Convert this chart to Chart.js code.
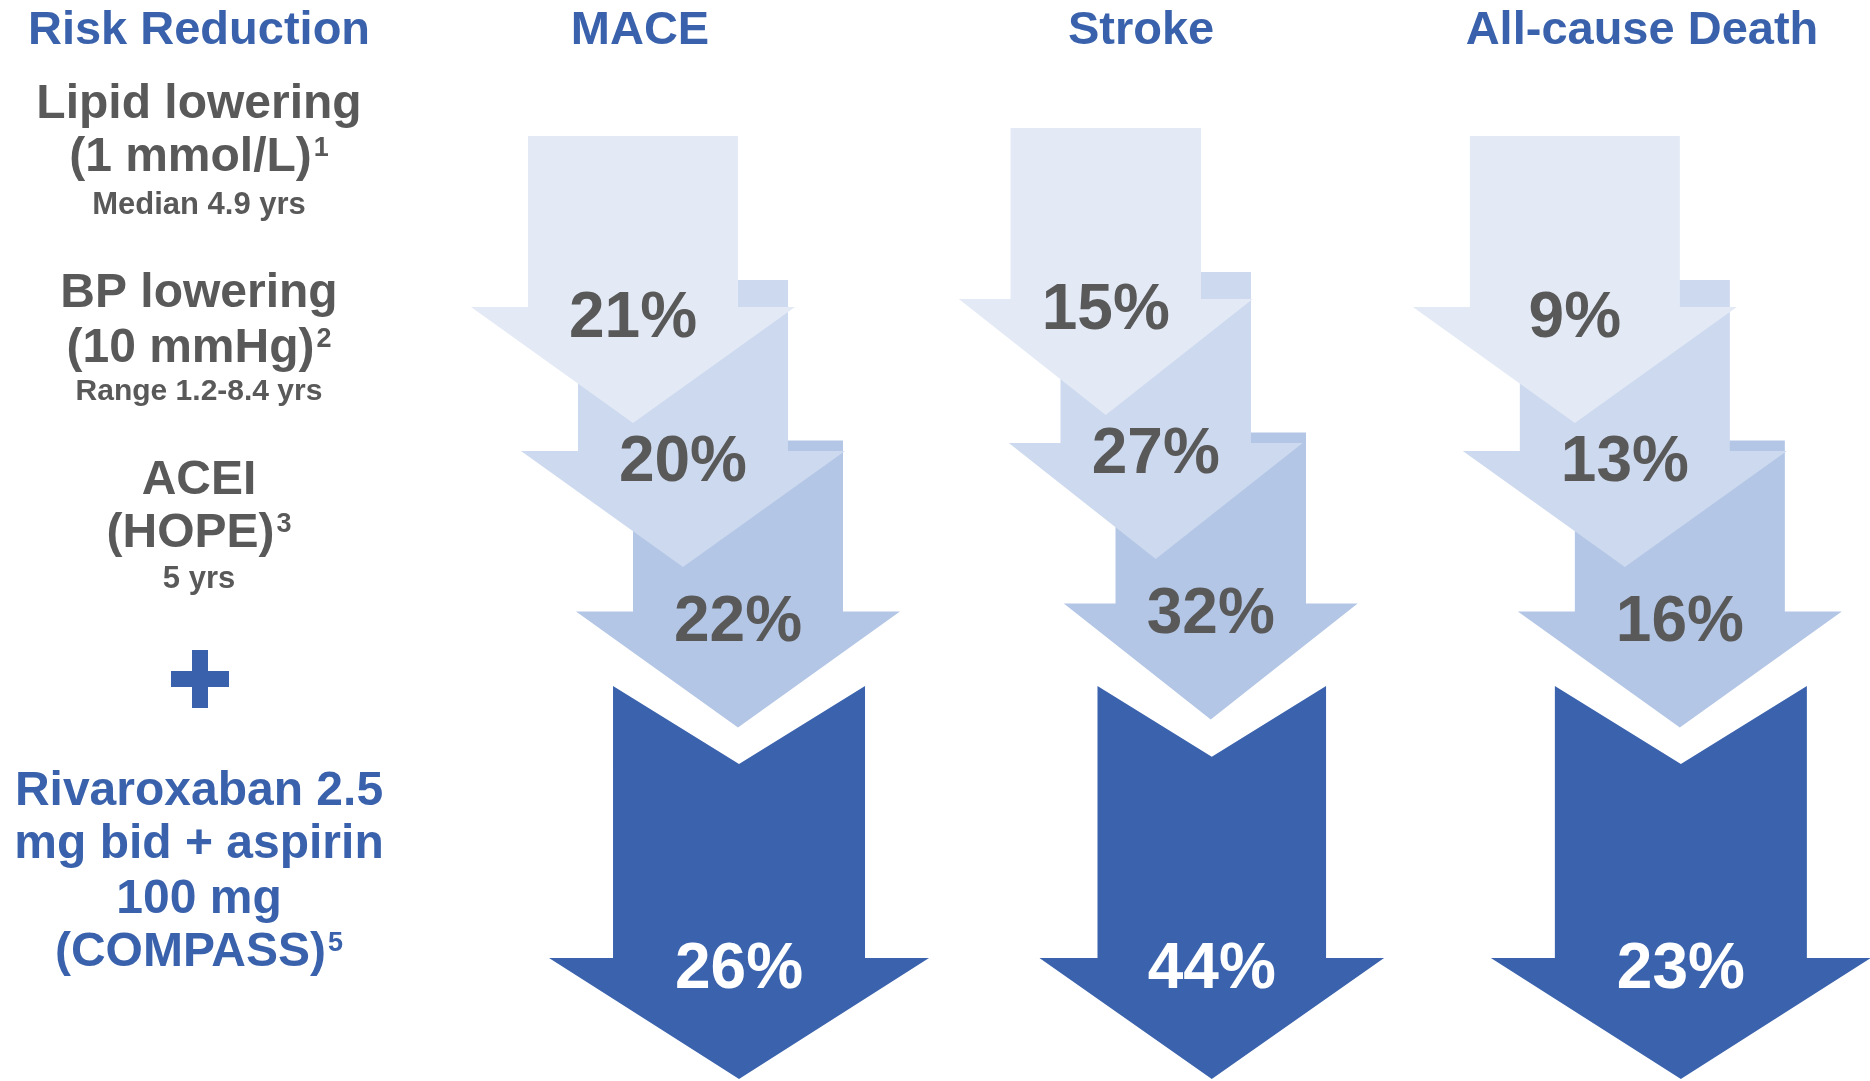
<!DOCTYPE html>
<html><head><meta charset="utf-8">
<script src="https://cdn.jsdelivr.net/npm/chart.js@4.4.1/dist/chart.umd.min.js"></script>
<style>html,body{margin:0;padding:0;background:#fff;overflow:hidden}#wrap{width:1870px;height:1081px;position:relative}</style>
</head><body><div id="wrap"><canvas id="c"></canvas></div>
<script>
// ---------- DATA ----------
const categories = ['MACE', 'Stroke', 'All-cause Death'];
const therapies = ['Lipid lowering', 'BP lowering', 'ACEI', 'Rivaroxaban + aspirin'];
const lipidLowering = [21, 15, 9];
const bpLowering = [20, 27, 13];
const aceiHope = [22, 32, 16];
const rivaroxabanAspirin = [26, 44, 23];
const headerTitle = 'Risk Reduction';
const leftTexts = [
  ['Lipid lowering', ''], ['(1 mmol/L)', '1'], ['Median 4.9 yrs', ''],
  ['BP lowering', ''], ['(10 mmHg)', '2'], ['Range 1.2-8.4 yrs', ''],
  ['ACEI', ''], ['(HOPE)', '3'], ['5 yrs', ''],
  ['Rivaroxaban 2.5', ''], ['mg bid + aspirin', ''], ['100 mg', ''], ['(COMPASS)', '5']
];

// ---------- LAYOUT / STYLE ----------
const FONT = '"Liberation Sans", Arial, Helvetica, sans-serif';
const GRAY = '#595959', BLUE = '#3A62AC';
const FILLS = ['#E3EAF6', '#CDD9EE', '#B3C6E6', '#3B63AD'];
const L = {
  colUnit: 469.75, colStart: 633, rowUnit: 144, rowStart: 307,
  stepShift: [0, 0.1064, 0.2235, 0.2257],
  rowPos: [0, 1, 2.115, 4.521],
  colWidth: [1, 0.907, 1],
  colNudge: [0, 0.0064, 0.005],
  colRowNudge: [0, -0.056, 0],
  headerX: [0.0149, 1.0815, 2.1479],
  leftX: 199,
  leftY: [105, 158, 205, 294, 349, 392, 481, 534, 579, 792, 845, 900, 953],
  leftSize: [48, 48, 31, 48, 48, 30, 48, 48, 31, 48, 48, 48, 48],
  leftBlue: [0,0,0,0,0,0,0,0,0,1,1,1,1],
  plusY: 679, headerY: 31, labelDy: 12
};

const seriesValues = [lipidLowering, bpLowering, aceiHope, rivaroxabanAspirin];
const datasets = seriesValues.map((vals, s) => ({
  label: therapies[s],
  data: categories.map((c, i) => ({
    x: i + L.colNudge[i] + L.stepShift[s],
    y: L.rowPos[s] + (s < 3 ? L.colRowNudge[i] : 0),
    v: vals[i]
  })),
  pointRadius: 0, showLine: false
}));

function lightArrow(ctx, cx, ht, ws, color) {
  const sw = 105 * ws, hw = 162 * ws, sl = 171, hh = 116;
  ctx.beginPath();
  ctx.moveTo(cx - sw, ht - sl); ctx.lineTo(cx + sw, ht - sl); ctx.lineTo(cx + sw, ht);
  ctx.lineTo(cx + hw, ht); ctx.lineTo(cx, ht + hh); ctx.lineTo(cx - hw, ht);
  ctx.lineTo(cx - sw, ht); ctx.closePath();
  ctx.fillStyle = color; ctx.fill();
}
function darkArrow(ctx, cx, ht, ws, color) {
  const sw = 126 * ws, hw = 190 * ws, top = ht - 272, notch = 78 * ws, hh = 121;
  ctx.beginPath();
  ctx.moveTo(cx - sw, top); ctx.lineTo(cx, top + notch); ctx.lineTo(cx + sw, top);
  ctx.lineTo(cx + sw, ht); ctx.lineTo(cx + hw, ht); ctx.lineTo(cx, ht + hh);
  ctx.lineTo(cx - hw, ht); ctx.lineTo(cx - sw, ht); ctx.closePath();
  ctx.fillStyle = color; ctx.fill();
}

function drawSupLine(ctx, x, y, text, sup, size, color) {
  ctx.fillStyle = color;
  ctx.textBaseline = 'middle';
  ctx.font = 'bold ' + size + 'px ' + FONT;
  const w1 = ctx.measureText(text).width;
  let w2 = 0, supSize = Math.round(size * 0.56);
  if (sup) { ctx.font = 'bold ' + supSize + 'px ' + FONT; w2 = ctx.measureText(sup).width + 2; }
  const x0 = x - (w1 + w2) / 2;
  ctx.textAlign = 'left';
  ctx.font = 'bold ' + size + 'px ' + FONT;
  ctx.fillText(text, x0, y);
  if (sup) {
    ctx.font = 'bold ' + supSize + 'px ' + FONT;
    ctx.fillText(sup, x0 + w1 + 2, y - size * 0.2);
  }
}

const arrowPlugin = {
  id: 'arrows',
  beforeDatasetsDraw(chart) {
    const ctx = chart.ctx;
    ctx.save();
    const order = [3, 2, 1, 0];
    order.forEach(s => {
      const meta = chart.getDatasetMeta(s);
      meta.data.forEach((el, i) => {
        const ws = L.colWidth[i];
        if (s === 3) darkArrow(ctx, el.x, el.y, ws, FILLS[3]);
        else lightArrow(ctx, el.x, el.y, ws, FILLS[s]);
      });
    });
    ctx.textAlign = 'center'; ctx.textBaseline = 'middle';
    ctx.font = 'bold 64px ' + FONT;
    order.forEach(s => {
      const meta = chart.getDatasetMeta(s);
      meta.data.forEach((el, i) => {
        ctx.fillStyle = s === 3 ? '#FFFFFF' : GRAY;
        ctx.fillText(chart.data.datasets[s].data[i].v + '%', el.x, el.y + L.labelDy);
      });
    });
    const xs = chart.scales.x;
    ctx.font = 'bold 47px ' + FONT; ctx.fillStyle = BLUE;
    ctx.fillText(headerTitle, L.leftX, L.headerY);
    categories.forEach((c, i) => ctx.fillText(c, xs.getPixelForValue(L.headerX[i]), L.headerY));
    leftTexts.forEach((t, k) => {
      drawSupLine(ctx, L.leftX, L.leftY[k], t[0], t[1], L.leftSize[k], L.leftBlue[k] ? BLUE : GRAY);
    });
    ctx.fillStyle = BLUE;
    ctx.fillRect(L.leftX + 1 - 29, L.plusY - 8, 58, 16);
    ctx.fillRect(L.leftX + 1 - 8, L.plusY - 29, 16, 58);
    ctx.restore();
  }
};

new Chart(document.getElementById('c'), {
  type: 'scatter',
  data: { datasets },
  options: {
    responsive: true, maintainAspectRatio: false, animation: false,
    layout: { padding: 0 },
    plugins: { legend: { display: false }, tooltip: { enabled: false } },
    events: [],
    scales: {
      x: { type: 'linear', display: false, min: -L.colStart / L.colUnit, max: (1870 - L.colStart) / L.colUnit },
      y: { type: 'linear', display: false, reverse: true, min: -L.rowStart / L.rowUnit, max: (1081 - L.rowStart) / L.rowUnit }
    }
  },
  plugins: [arrowPlugin]
});
</script></body></html>
